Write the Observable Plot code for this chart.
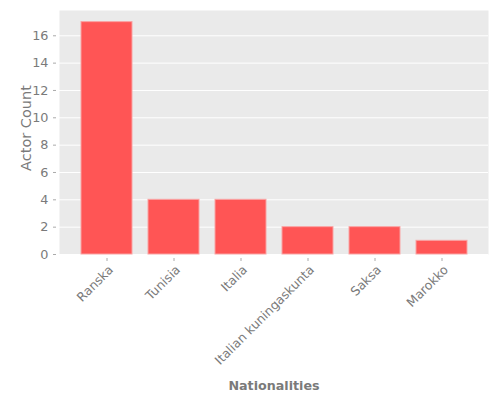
<!DOCTYPE html>
<html>
<head>
<meta charset="utf-8">
<script src="https://cdn.jsdelivr.net/npm/d3@7"></script>
<script src="https://cdn.jsdelivr.net/npm/@observablehq/plot@0.6"></script>
<style>
  html, body { margin: 0; padding: 0; background: #fff; }
  svg { display: block; }
</style>
</head>
<body>
<div id="chart"></div>
<script>
const nationalities = ["Ranska", "Tunisia", "Italia", "Italian kuningaskunta", "Saksa", "Marokko"];
const actorCounts = [17, 4, 4, 2, 2, 1];
const yTicks = [0, 2, 4, 6, 8, 10, 12, 14, 16];

const data = nationalities.map((n, i) => ({nationality: n, count: actorCounts[i]}));
const textColor = "#7a7a7a";

const chart = Plot.plot({
  width: 500,
  height: 400,
  marginLeft: 59,
  marginRight: 12,
  marginTop: 10,
  marginBottom: 146,
  style: {fontFamily: "DejaVu Sans", fontSize: "12.5px", color: textColor, background: "#fff"},
  x: {domain: nationalities, paddingInner: 0.24, paddingOuter: 0.307, label: null},
  y: {domain: [0, 17.85], label: null},
  marks: [
    Plot.frame({fill: "#EAEAEA", stroke: null}),
    Plot.gridY(yTicks, {stroke: "#fff", strokeOpacity: 1, strokeWidth: 1}),
    Plot.barY(data, {x: "nationality", y: "count", fill: "#FF5555", stroke: "#F9A3A3", strokeWidth: 1}),
    Plot.axisY(yTicks, {tickSize: 3, tickPadding: 5, dx: -3, stroke: "#aaa", fill: textColor, fontSize: 12.8, label: null}),
    Plot.axisX({text: null, tickSize: 3, dy: 4, stroke: "#aaa", label: null}),
    Plot.text(data, {x: "nationality", text: "nationality", frameAnchor: "bottom", rotate: -45, textAnchor: "end", lineAnchor: "bottom", dx: 7, dy: 16, fill: textColor, fontSize: 12.5}),
    Plot.text(["Nationalities"], {frameAnchor: "bottom", textAnchor: "middle", lineAnchor: "bottom", dy: 135, fontWeight: "bold", fontSize: 12.7, fill: textColor}),
    Plot.text(["Actor Count"], {frameAnchor: "left", textAnchor: "middle", lineAnchor: "bottom", rotate: -90, dx: -29, dy: -4.5, fontSize: 14.5, fill: textColor})
  ]
});
document.getElementById("chart").appendChild(chart);
</script>
</body>
</html>
